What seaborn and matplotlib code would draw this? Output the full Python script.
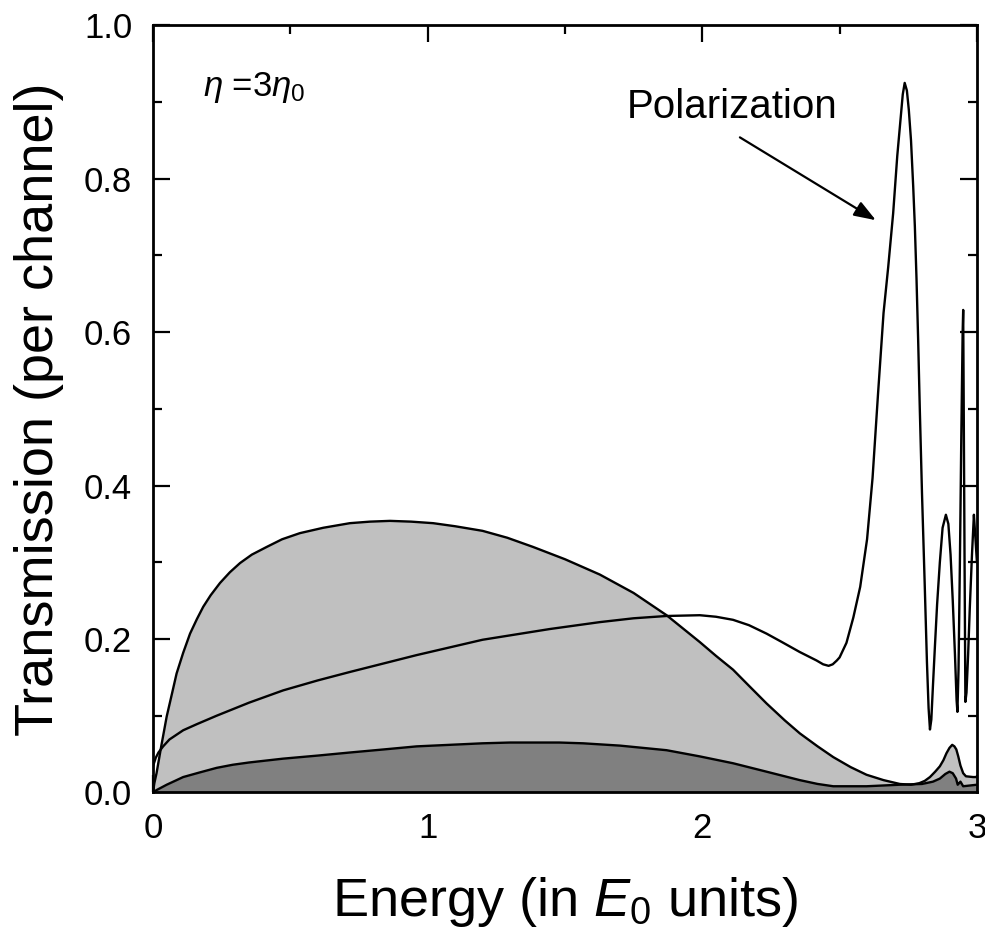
import numpy as np
import seaborn as sns
import matplotlib.pyplot as plt
from matplotlib.ticker import MultipleLocator

# light grey channel (filled)
e_light = [0.0, 0.005, 0.013, 0.03, 0.05, 0.07, 0.086, 0.11, 0.135, 0.16, 0.183, 0.21,
           0.244, 0.28, 0.317, 0.36, 0.414, 0.47, 0.535, 0.62, 0.717, 0.79, 0.863,
           0.94, 1.02, 1.1, 1.2, 1.29, 1.384, 1.5, 1.627, 1.75, 1.87, 1.991, 2.05,
           2.112, 2.17, 2.234, 2.3, 2.355, 2.42, 2.477, 2.54, 2.598, 2.66, 2.719,
           2.76, 2.79, 2.81, 2.829, 2.848, 2.865, 2.878, 2.889, 2.9, 2.91, 2.918,
           2.925, 2.932, 2.94, 2.95, 2.96, 2.986, 3.0]
t_light = [0.0, 0.012, 0.025, 0.06, 0.099, 0.13, 0.155, 0.182, 0.207, 0.226, 0.242, 0.257,
           0.273, 0.287, 0.299, 0.31, 0.32, 0.33, 0.338, 0.345, 0.351, 0.353, 0.354,
           0.353, 0.351, 0.347, 0.341, 0.332, 0.32, 0.304, 0.284, 0.26, 0.231, 0.196, 0.178,
           0.16, 0.139, 0.116, 0.094, 0.077, 0.06, 0.046, 0.033, 0.023, 0.016, 0.011,
           0.01, 0.012, 0.015, 0.02, 0.027, 0.034, 0.042, 0.051, 0.058, 0.062, 0.06,
           0.056, 0.047, 0.035, 0.025, 0.021, 0.02, 0.02]

# dark grey channel (filled)
e_dark = [0.0, 0.013, 0.05, 0.11, 0.17, 0.232, 0.29, 0.35, 0.474, 0.6, 0.717, 0.84, 0.96,
          1.08, 1.2, 1.3, 1.384, 1.48, 1.566, 1.7, 1.87, 1.99, 2.112, 2.234, 2.355,
          2.42, 2.477, 2.598, 2.719, 2.8, 2.84, 2.865, 2.885, 2.9, 2.912, 2.924, 2.93,
          2.935, 2.94, 2.95, 3.0]
t_dark = [0.0, 0.003, 0.01, 0.02, 0.026, 0.032, 0.036, 0.039, 0.044, 0.048, 0.052, 0.056,
          0.06, 0.062, 0.064, 0.065, 0.065, 0.065, 0.064, 0.061, 0.055, 0.047, 0.038,
          0.027, 0.016, 0.011, 0.008, 0.008, 0.01, 0.011, 0.014, 0.018, 0.024, 0.027,
          0.025, 0.018, 0.01, 0.012, 0.014, 0.008, 0.01]

# polarization channel (line only)
e_pol = [0.0, 0.01, 0.02, 0.037, 0.06, 0.11, 0.16, 0.232, 0.35, 0.474, 0.6, 0.717,
         0.96, 1.2, 1.445, 1.627, 1.75, 1.87, 1.991, 2.05, 2.112, 2.17, 2.234, 2.29,
         2.355, 2.416, 2.44, 2.46, 2.475, 2.49, 2.5, 2.525, 2.55, 2.575, 2.6, 2.62,
         2.64, 2.66, 2.677, 2.695, 2.71, 2.72, 2.73, 2.737, 2.745, 2.752, 2.76, 2.768,
         2.774, 2.78, 2.786, 2.792, 2.8, 2.81, 2.818, 2.824, 2.829, 2.834, 2.84, 2.847,
         2.855, 2.865, 2.875, 2.887, 2.896, 2.904, 2.912, 2.92, 2.926, 2.929, 2.933,
         2.938, 2.943, 2.948, 2.95, 2.952, 2.955, 2.958, 2.962, 2.968, 2.974, 2.982,
         2.989, 2.993, 3.0]
t_pol = [0.034, 0.045, 0.052, 0.06, 0.069, 0.081, 0.089, 0.1, 0.117, 0.133, 0.146, 0.157,
         0.179, 0.199, 0.213, 0.222, 0.227, 0.23, 0.231, 0.229, 0.225, 0.218, 0.207, 0.196,
         0.183, 0.172, 0.167, 0.165, 0.167, 0.172, 0.176, 0.195, 0.228, 0.268, 0.33, 0.41,
         0.52, 0.625, 0.685, 0.755, 0.83, 0.87, 0.91, 0.925, 0.915, 0.89, 0.85, 0.79,
         0.738, 0.67, 0.59, 0.5, 0.39, 0.27, 0.17, 0.11, 0.082, 0.095, 0.14, 0.19,
         0.245, 0.3, 0.345, 0.362, 0.35, 0.31, 0.25, 0.18, 0.12, 0.105, 0.16,
         0.3, 0.46, 0.6, 0.629, 0.5, 0.3, 0.118, 0.13, 0.18, 0.24, 0.31,
         0.362, 0.34, 0.3]

sns.set_theme(style="ticks")
plt.rcParams["font.family"] = ["Liberation Sans", "DejaVu Sans"]
plt.rcParams["mathtext.fontset"] = "custom"
plt.rcParams["mathtext.rm"] = "Liberation Sans"
plt.rcParams["mathtext.it"] = "Liberation Sans:italic"
plt.rcParams["text.color"] = "black"
plt.rcParams["axes.labelcolor"] = "black"

fig = plt.figure(figsize=(9.85, 9.33), dpi=100)
ax = fig.add_axes([0.1553, 0.1507, 0.8365, 0.8221])

ax.fill_between(e_light, t_light, color="#c0c0c0", lw=0)
ax.fill_between(e_dark, t_dark, color="#808080", lw=0)
sns.lineplot(x=e_light, y=t_light, ax=ax, color="black", lw=1.7, sort=False)
sns.lineplot(x=e_dark, y=t_dark, ax=ax, color="black", lw=1.7, sort=False)
sns.lineplot(x=e_pol, y=t_pol, ax=ax, color="black", lw=1.7, sort=False)

ax.set_xlim(0, 3)
ax.set_ylim(0, 1)
ax.xaxis.set_minor_locator(MultipleLocator(0.5))
ax.yaxis.set_minor_locator(MultipleLocator(0.1))
ax.set_xticks([0, 1, 2, 3])
ax.set_xticklabels(["0", "1", "2", "3"])
ax.set_yticks([0, 0.2, 0.4, 0.6, 0.8, 1.0])
ax.set_yticklabels(["0.0", "0.2", "0.4", "0.6", "0.8", "1.0"])
ax.tick_params(which="both", direction="in", top=True, right=True,
               width=1.6, color="black", labelsize=25, labelcolor="black")
ax.tick_params(which="major", length=12)
ax.tick_params(axis="y", which="major", pad=15)
ax.tick_params(axis="x", which="major", pad=14)
ax.tick_params(which="minor", length=6.5)
for s in ax.spines.values():
    s.set_linewidth(2)
    s.set_color("black")

ax.set_xlabel("Energy (in $E_0$ units)", fontsize=39, labelpad=22)
ax.set_ylabel("Transmission (per channel)", fontsize=39, labelpad=14)

ax.text(0.183, 0.908, r"$\eta$ =3$\eta_0$", fontsize=25, va="baseline", ha="left")
ax.text(1.724, 0.879, "Polarization", fontsize=29, va="baseline", ha="left")
ax.annotate("", xy=(2.632, 0.746), xytext=(2.137, 0.854),
            arrowprops=dict(arrowstyle="-|>,head_length=1.1,head_width=0.4",
                            color="black", lw=1.6, shrinkA=0, shrinkB=0))

plt.savefig("out.png", dpi=100)
plt.close()
